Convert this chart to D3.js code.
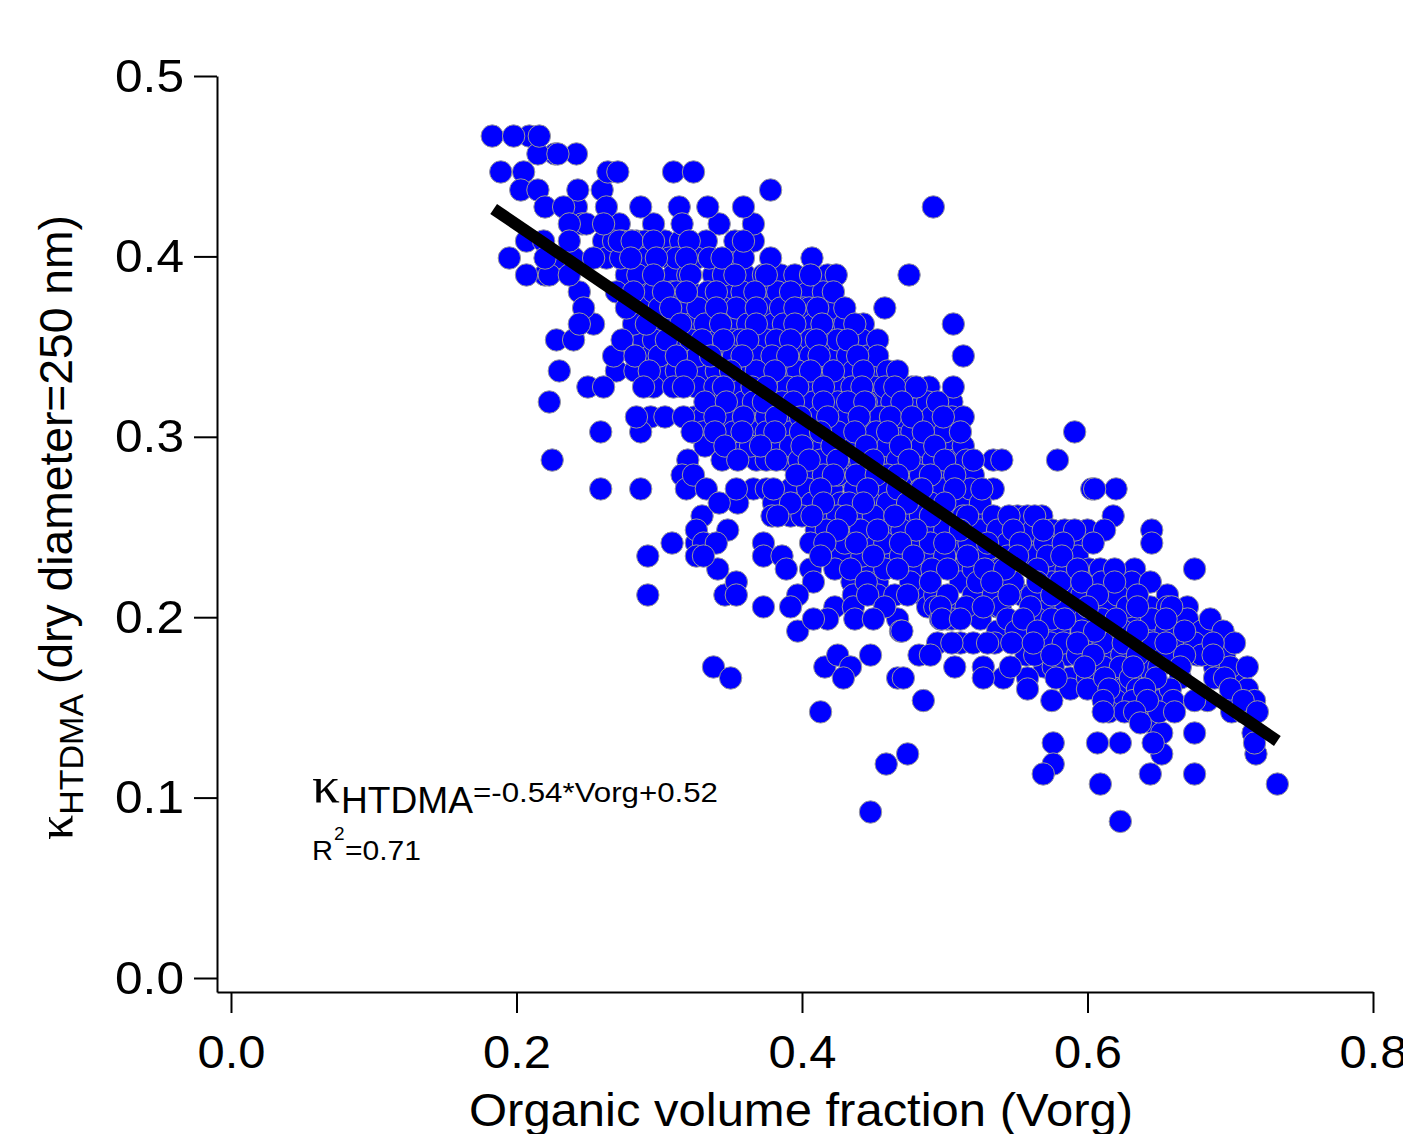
<!DOCTYPE html>
<html>
<head>
<meta charset="utf-8">
<script src="https://cdn.jsdelivr.net/npm/d3@7"></script>
<style>
	html, body { margin: 0; padding: 0; background: #fff; overflow: hidden; }
	text { font-family: "Liberation Sans", Arial, sans-serif; fill: #000; }
	.axis text { font-size: 47px; }
	.axis path, .axis line { stroke: #000; stroke-width: 2px; }
</style>
</head>
<body>
<svg id="chart" width="1403" height="1134"></svg>
<script>
var xTicks = [0, 0.2, 0.4, 0.6, 0.8]
var yTicks = [0, 0.1, 0.2, 0.3, 0.4, 0.5]
var fitVorg = [0.184, 0.733]
var fitKappa = [0.4263, 0.1314]

// kappa comes in discrete levels, so points are kept per level
var kappaLevels = [0.4667, 0.4568, 0.4468, 0.4368, 0.4274, 0.4180, 0.4085, 0.3991, 0.3897, 0.3803, 0.3714, 0.3625, 0.3537, 0.3448, 0.3365, 0.3276, 0.3193, 0.3110, 0.3027, 0.2949, 0.2871, 0.2788, 0.2711, 0.2633, 0.2561, 0.2483, 0.2411, 0.2339, 0.2267, 0.2195, 0.2123, 0.2057, 0.1990, 0.1923, 0.1857, 0.1790, 0.1724, 0.1663, 0.1602, 0.1538, 0.1475, 0.1414, 0.1358, 0.1303, 0.1242, 0.1186, 0.1131, 0.1075, 0.0920, 0.0868]
var vorgByLevel = [
	[0.183, 0.198, 0.216, 0.209],
	[0.227, 0.229, 0.242, 0.215],
	[0.189, 0.205, 0.264, 0.271, 0.310, 0.324],
	[0.203, 0.215, 0.243, 0.260, 0.378],
	[0.220, 0.233, 0.242, 0.263, 0.287, 0.314, 0.334, 0.359, 0.492],
	[0.237, 0.246, 0.249, 0.261, 0.272, 0.296, 0.316, 0.342, 0.366],
	[0.207, 0.219, 0.237, 0.261, 0.268, 0.272, 0.274, 0.280, 0.281, 0.284, 0.290, 0.296, 0.304, 0.315, 0.321, 0.333, 0.353, 0.359, 0.366],
	[0.195, 0.220, 0.228, 0.240, 0.254, 0.263, 0.273, 0.280, 0.287, 0.291, 0.298, 0.307, 0.312, 0.319, 0.326, 0.335, 0.344, 0.352, 0.359, 0.378, 0.407],
	[0.207, 0.220, 0.223, 0.237, 0.277, 0.285, 0.296, 0.310, 0.320, 0.322, 0.338, 0.345, 0.353, 0.360, 0.373, 0.375, 0.385, 0.395, 0.406, 0.418, 0.424, 0.475],
	[0.244, 0.270, 0.282, 0.290, 0.296, 0.303, 0.309, 0.312, 0.319, 0.322, 0.334, 0.340, 0.350, 0.358, 0.367, 0.376, 0.383, 0.392, 0.402, 0.415, 0.422],
	[0.247, 0.277, 0.291, 0.300, 0.308, 0.315, 0.327, 0.340, 0.345, 0.354, 0.368, 0.375, 0.385, 0.395, 0.401, 0.405, 0.411, 0.418, 0.422, 0.430, 0.458],
	[0.244, 0.254, 0.282, 0.291, 0.301, 0.310, 0.315, 0.322, 0.332, 0.343, 0.354, 0.362, 0.368, 0.380, 0.387, 0.395, 0.402, 0.408, 0.414, 0.419, 0.430, 0.437, 0.443, 0.506],
	[0.228, 0.240, 0.274, 0.289, 0.296, 0.305, 0.312, 0.322, 0.330, 0.336, 0.341, 0.345, 0.352, 0.357, 0.362, 0.375, 0.382, 0.392, 0.403, 0.406, 0.410, 0.418, 0.425, 0.432, 0.442, 0.453],
	[0.268, 0.283, 0.294, 0.300, 0.312, 0.319, 0.327, 0.336, 0.345, 0.352, 0.358, 0.368, 0.379, 0.390, 0.399, 0.406, 0.412, 0.425, 0.432, 0.439, 0.446, 0.453, 0.513],
	[0.230, 0.270, 0.283, 0.293, 0.304, 0.312, 0.319, 0.331, 0.340, 0.350, 0.361, 0.368, 0.381, 0.389, 0.397, 0.406, 0.409, 0.415, 0.422, 0.429, 0.436, 0.443, 0.453, 0.460, 0.467],
	[0.250, 0.261, 0.289, 0.296, 0.310, 0.317, 0.326, 0.339, 0.345, 0.357, 0.365, 0.375, 0.382, 0.390, 0.397, 0.403, 0.411, 0.415, 0.425, 0.435, 0.442, 0.450, 0.458, 0.465, 0.469, 0.477, 0.480, 0.489, 0.506],
	[0.223, 0.332, 0.339, 0.345, 0.347, 0.359, 0.366, 0.373, 0.380, 0.386, 0.394, 0.400, 0.408, 0.415, 0.420, 0.425, 0.432, 0.437, 0.445, 0.444, 0.452, 0.463, 0.470, 0.479, 0.488, 0.495, 0.505],
	[0.284, 0.294, 0.304, 0.317, 0.325, 0.331, 0.339, 0.347, 0.345, 0.359, 0.368, 0.375, 0.382, 0.387, 0.394, 0.399, 0.406, 0.411, 0.418, 0.425, 0.432, 0.440, 0.446, 0.455, 0.462, 0.464, 0.470, 0.477, 0.485, 0.491, 0.499, 0.505, 0.513],
	[0.259, 0.287, 0.323, 0.324, 0.331, 0.339, 0.347, 0.352, 0.358, 0.368, 0.375, 0.381, 0.382, 0.392, 0.399, 0.405, 0.408, 0.413, 0.415, 0.425, 0.437, 0.445, 0.452, 0.460, 0.470, 0.477, 0.485, 0.492, 0.500, 0.511, 0.591],
	[0.332, 0.346, 0.352, 0.364, 0.371, 0.380, 0.392, 0.400, 0.408, 0.415, 0.421, 0.429, 0.437, 0.445, 0.451, 0.460, 0.469, 0.477, 0.484, 0.493, 0.505, 0.513],
	[0.225, 0.320, 0.344, 0.355, 0.368, 0.375, 0.382, 0.389, 0.398, 0.405, 0.411, 0.413, 0.425, 0.432, 0.441, 0.450, 0.460, 0.467, 0.475, 0.483, 0.492, 0.500, 0.507, 0.515, 0.520, 0.534, 0.540, 0.579],
	[0.316, 0.324, 0.396, 0.406, 0.415, 0.422, 0.429, 0.425, 0.438, 0.441, 0.446, 0.452, 0.457, 0.460, 0.467, 0.475, 0.483, 0.490, 0.495, 0.498, 0.507, 0.512, 0.520],
	[0.259, 0.287, 0.319, 0.333, 0.354, 0.366, 0.375, 0.380, 0.392, 0.404, 0.413, 0.421, 0.437, 0.446, 0.457, 0.460, 0.467, 0.474, 0.483, 0.484, 0.492, 0.499, 0.507, 0.514, 0.518, 0.526, 0.534, 0.603, 0.605, 0.620],
	[0.342, 0.355, 0.380, 0.392, 0.399, 0.407, 0.415, 0.427, 0.433, 0.443, 0.451, 0.460, 0.474, 0.483, 0.490, 0.500, 0.514, 0.525],
	[0.330, 0.379, 0.383, 0.392, 0.400, 0.407, 0.418, 0.425, 0.431, 0.439, 0.450, 0.465, 0.472, 0.483, 0.490, 0.499, 0.513, 0.516, 0.525, 0.534, 0.545, 0.551, 0.558, 0.563, 0.568, 0.618],
	[0.326, 0.348, 0.410, 0.417, 0.425, 0.439, 0.441, 0.453, 0.460, 0.470, 0.480, 0.493, 0.500, 0.511, 0.525, 0.537, 0.548, 0.555, 0.562, 0.569, 0.575, 0.584, 0.591, 0.600, 0.612, 0.645],
	[0.309, 0.326, 0.331, 0.340, 0.373, 0.406, 0.416, 0.418, 0.430, 0.438, 0.449, 0.458, 0.469, 0.481, 0.490, 0.500, 0.509, 0.517, 0.530, 0.542, 0.544, 0.553, 0.563, 0.570, 0.583, 0.590, 0.604, 0.645],
	[0.292, 0.326, 0.331, 0.373, 0.386, 0.413, 0.428, 0.442, 0.450, 0.458, 0.469, 0.478, 0.490, 0.500, 0.516, 0.528, 0.544, 0.551, 0.562, 0.572, 0.582, 0.593],
	[0.341, 0.389, 0.406, 0.423, 0.434, 0.445, 0.458, 0.467, 0.477, 0.491, 0.502, 0.512, 0.520, 0.528, 0.537, 0.539, 0.542, 0.546, 0.547, 0.565, 0.579, 0.585, 0.593, 0.601, 0.609, 0.619, 0.633, 0.675],
	[0.354, 0.408, 0.435, 0.445, 0.453, 0.476, 0.490, 0.511, 0.523, 0.533, 0.539, 0.548, 0.565, 0.575, 0.581, 0.596, 0.597, 0.610, 0.619, 0.631, 0.644],
	[0.292, 0.346, 0.354, 0.397, 0.436, 0.446, 0.453, 0.465, 0.474, 0.485, 0.493, 0.502, 0.520, 0.534, 0.545, 0.554, 0.561, 0.575, 0.585, 0.596, 0.607, 0.609, 0.621, 0.635, 0.656],
	[0.373, 0.392, 0.423, 0.436, 0.458, 0.488, 0.493, 0.497, 0.504, 0.515, 0.527, 0.537, 0.539, 0.560, 0.572, 0.585, 0.600, 0.614, 0.628, 0.635, 0.644, 0.656, 0.659, 0.670],
	[0.408, 0.418, 0.437, 0.450, 0.467, 0.497, 0.498, 0.502, 0.505, 0.511, 0.525, 0.544, 0.555, 0.565, 0.575, 0.584, 0.595, 0.610, 0.620, 0.630, 0.645, 0.655, 0.670, 0.686],
	[0.397, 0.469, 0.470, 0.537, 0.550, 0.565, 0.580, 0.596, 0.605, 0.614, 0.625, 0.635, 0.645, 0.655, 0.668, 0.680, 0.695],
	[0.495, 0.505, 0.511, 0.520, 0.530, 0.535, 0.547, 0.562, 0.574, 0.583, 0.593, 0.600, 0.611, 0.625, 0.635, 0.646, 0.655, 0.665, 0.675, 0.688, 0.695, 0.703],
	[0.425, 0.448, 0.482, 0.490, 0.557, 0.563, 0.575, 0.586, 0.593, 0.604, 0.614, 0.624, 0.635, 0.650, 0.655, 0.668, 0.677, 0.680, 0.688, 0.696],
	[0.338, 0.416, 0.434, 0.507, 0.527, 0.546, 0.570, 0.576, 0.598, 0.611, 0.623, 0.632, 0.640, 0.650, 0.665, 0.689, 0.700, 0.712],
	[0.350, 0.429, 0.467, 0.471, 0.527, 0.541, 0.558, 0.578, 0.588, 0.600, 0.612, 0.622, 0.630, 0.648, 0.665, 0.689, 0.696, 0.705],
	[0.558, 0.588, 0.600, 0.615, 0.625, 0.635, 0.640, 0.649, 0.658, 0.700, 0.712],
	[0.485, 0.575, 0.611, 0.620, 0.632, 0.642, 0.651, 0.660, 0.675, 0.684, 0.700, 0.709, 0.717],
	[0.413, 0.611, 0.615, 0.626, 0.633, 0.640, 0.650, 0.661, 0.701, 0.709, 0.719],
	[0.637, 0.646],
	[0.652, 0.675, 0.716],
	[0.576, 0.607, 0.623, 0.646, 0.717],
	[0.474, 0.652, 0.718],
	[0.459, 0.576],
	[0.569, 0.644, 0.675],
	[0.609, 0.733],
	[0.448],
	[0.623]
]

var points = []
kappaLevels.forEach(function(k, i) {
	vorgByLevel[i].forEach(function(v, j) { points.push({v: v, k: k, layer: (i + j) % 3}) })
})
// overlaps in the original go both ways, so draw in three passes instead of row by row
points.sort(function(a, b) { return a.layer - b.layer })

var svg = d3.select("#chart")

var xScale = d3.scaleLinear().domain([-0.0098, 0.8]).range([217, 1373])
var yScale = d3.scaleLinear().domain([-0.00776, 0.5]).range([992, 76])

var xAxis = d3.axisBottom(xScale).tickValues(xTicks).tickFormat(d3.format(".1f")).tickSize(21).tickPadding(22).tickSizeOuter(0)
var yAxis = d3.axisLeft(yScale).tickValues(yTicks).tickFormat(d3.format(".1f")).tickSize(23).tickPadding(10).tickSizeOuter(0)

var xG = svg.append("g").attr("class", "axis").attr("transform", "translate(0,992)").call(xAxis)
var yG = svg.append("g").attr("class", "axis").attr("transform", "translate(217,0)").call(yAxis)

// labels in the original are a little wider than the font
xG.selectAll("text").attr("textLength", 68).attr("lengthAdjust", "spacingAndGlyphs")
yG.selectAll("text").attr("textLength", 69).attr("lengthAdjust", "spacingAndGlyphs")

svg.append("g").selectAll("circle")
	.data(points)
	.join("circle")
		.attr("cx", function(d) { return xScale(d.v) })
		.attr("cy", function(d) { return yScale(d.k) })
		.attr("r", 11.2)
		.attr("fill", "#0000ff")
		.attr("stroke", "#999")
		.attr("stroke-width", 1)

var fitLine = d3.line()
	.x(function(d) { return xScale(d) })
	.y(function(d, i) { return yScale(fitKappa[i]) })

svg.append("path")
	.attr("d", fitLine(fitVorg))
	.attr("fill", "none")
	.attr("stroke", "#000")
	.attr("stroke-width", 12)

svg.append("text")
	.attr("x", 801).attr("y", 1126)
	.attr("text-anchor", "middle")
	.attr("font-size", 47)
	.attr("textLength", 664).attr("lengthAdjust", "spacingAndGlyphs")
	.text("Organic volume fraction (Vorg)")

var yTitle = svg.append("text")
	.attr("transform", "translate(72,840) rotate(-90)")
	.attr("font-size", 34)
yTitle.append("tspan").style("font-family", "Liberation Serif").attr("font-size", 50).text("κ")
yTitle.append("tspan").attr("dy", 11).text("HTDMA")
svg.append("text")
	.attr("transform", "translate(72,684) rotate(-90)")
	.attr("font-size", 46)
	.attr("textLength", 469).attr("lengthAdjust", "spacingAndGlyphs")
	.text("(dry diameter=250 nm)")

svg.append("text").attr("x", 312).attr("y", 802)
	.style("font-family", "Liberation Serif").attr("font-size", 50)
	.attr("textLength", 28).attr("lengthAdjust", "spacingAndGlyphs")
	.text("κ")
svg.append("text").attr("x", 341).attr("y", 813).attr("font-size", 36)
	.attr("textLength", 132).attr("lengthAdjust", "spacingAndGlyphs")
	.text("HTDMA")
svg.append("text").attr("x", 473).attr("y", 802).attr("font-size", 28)
	.attr("textLength", 245).attr("lengthAdjust", "spacingAndGlyphs")
	.text("=-0.54*Vorg+0.52")

svg.append("text").attr("x", 312).attr("y", 860).attr("font-size", 28)
	.attr("textLength", 21).attr("lengthAdjust", "spacingAndGlyphs")
	.text("R")
svg.append("text").attr("x", 334).attr("y", 840).attr("font-size", 19).text("2")
svg.append("text").attr("x", 345).attr("y", 860).attr("font-size", 28)
	.attr("textLength", 76).attr("lengthAdjust", "spacingAndGlyphs")
	.text("=0.71")
</script>
</body>
</html>
